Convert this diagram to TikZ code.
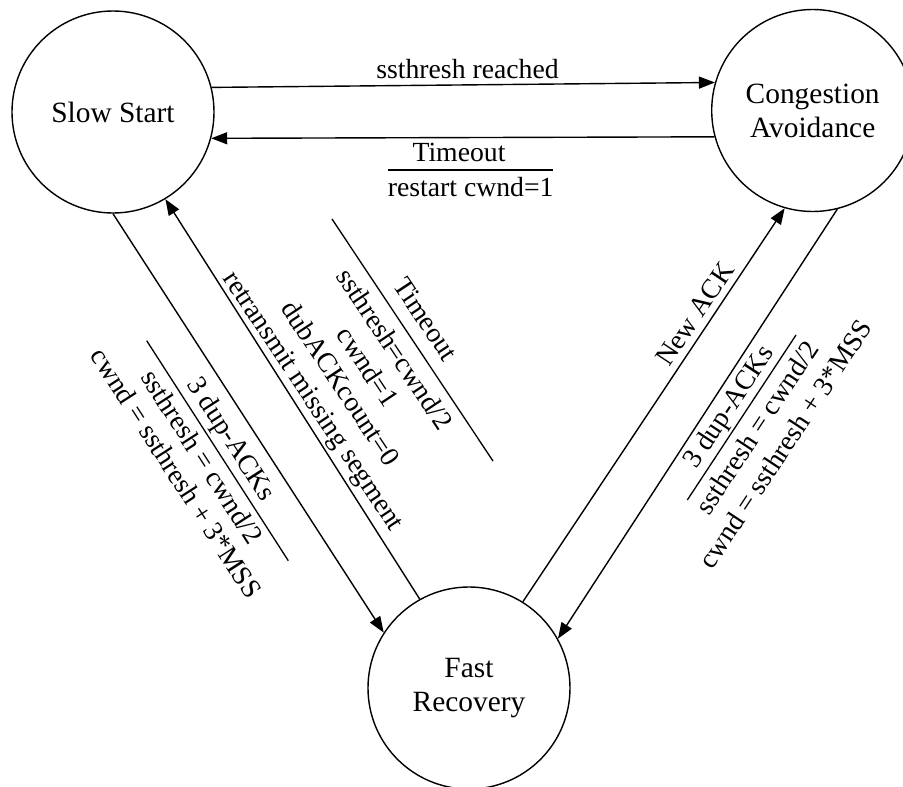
\documentclass[tikz,border=0pt]{standalone}
\usepackage{fontspec}
\setmainfont{Liberation Serif}
\usetikzlibrary{arrows.meta}
\begin{document}
\begin{tikzpicture}[x=1pt,y=-1pt,
  every node/.style={font=\fontsize{27.7}{33}\selectfont, inner sep=0pt},
  state/.style={circle, draw, line width=1.4pt, minimum size=202pt,
    align=center, font=\fontsize{29.4}{34}\selectfont},
  trans/.style={line width=1.4pt, -{Triangle[length=16pt,width=12pt]}},
  fracbar/.style={line width=1.3pt},
]
\clip (0,0) rectangle (903,787);
\fill[white] (0,0) rectangle (903,787);

% states
\node[state] (ss) at (113,112)     {Slow Start};
\node[state] (ca) at (812.7,110.5) {Congestion\\Avoidance};
\node[state] (fr) at (469,688)     {Fast\\Recovery};

% transitions
\draw[trans] (ss.14.6)   -- (ca.164.2);
\draw[trans] (ca.-165.4) -- (ss.-15.6);
\draw[trans] (ss.-90)    -- (fr.147.9);
\draw[trans] (fr.119.4)  -- (ss.-59.2);
\draw[trans] (fr.58.4)   -- (ca.-106.6);
\draw[trans] (ca.-76.3)  -- (fr.29.8);

% slow start -> congestion avoidance
\node (lssr) at (467.5,69) {ssthresh reached};

% congestion avoidance -> slow start
\node (lto) at (459,152.5) {Timeout};
\coordinate (btoS) at (388,170);
\coordinate (btoE) at (553,170);
\draw[fracbar] (btoS) -- (btoE);
\node (lrst) at (470.7,187.5) {restart cwnd=1};

% slow start -> fast recovery
\coordinate (baS) at (146.7,340.7);
\coordinate (baE) at (288.3,560.7);
\draw[fracbar] (baS) -- (baE);
\node[rotate=-57.2] (la1) at (230,440)     {3 dup-ACKs};
\node[rotate=-57.2] (la2) at (202.3,456.7) {ssthresh = cwnd/2};
\node[rotate=-57.2] (la3) at (176.7,473.3) {cwnd = ssthresh + 3*MSS};

% fast recovery -> slow start
\coordinate (bbS) at (332,219);
\coordinate (bbE) at (493,461);
\draw[fracbar] (bbS) -- (bbE);
\node[rotate=-56.4] (lb1) at (426,319) {Timeout};
\node[rotate=-56.4] (lb2) at (395,349) {ssthresh=cwnd/2};
\node[rotate=-56.4] (lb3) at (368,367) {cwnd=1};
\node[rotate=-56.4] (lb4) at (341,383) {dubACKcount=0};
\node[rotate=-56.4] (lb5) at (312,402) {retransmit missing segment};

% fast recovery -> congestion avoidance
\node[rotate=56.3] (lnew) at (695,314) {New ACK};

% congestion avoidance -> fast recovery
\coordinate (bcS) at (687.3,500);
\coordinate (bcE) at (796,335);
\draw[fracbar] (bcS) -- (bcE);
\node[rotate=56.6] (lc1) at (730,407.5)   {3 dup-ACKs};
\node[rotate=56.6] (lc2) at (756.7,427.3) {ssthresh = cwnd/2};
\node[rotate=56.6] (lc3) at (785,444)     {cwnd = ssthresh + 3*MSS};
\end{tikzpicture}
\end{document}
